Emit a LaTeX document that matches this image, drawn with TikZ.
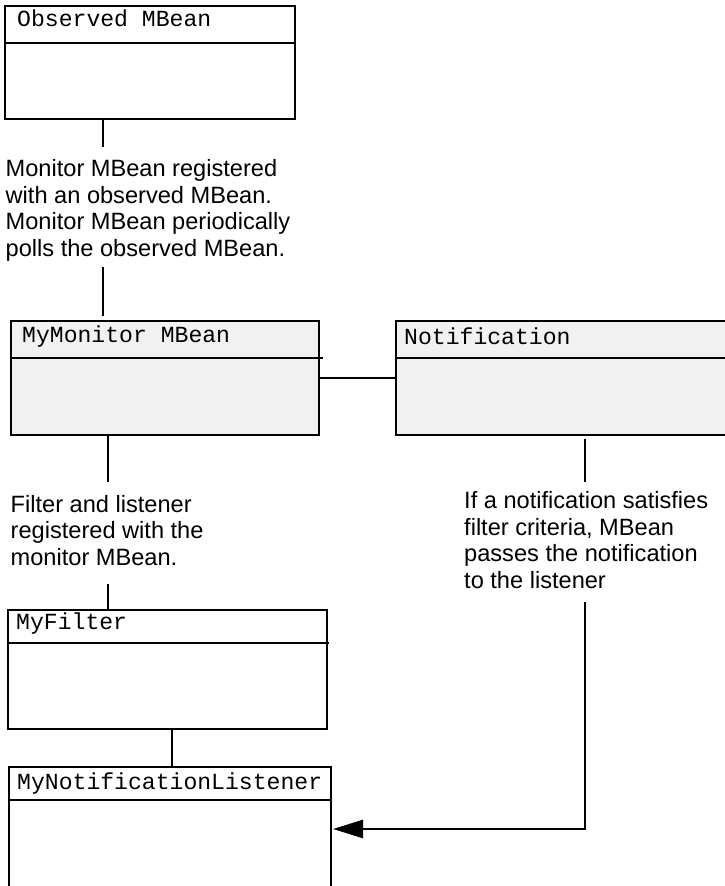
\documentclass[tikz,border=0pt]{standalone}
\usepackage{fontspec}
\setmainfont{Liberation Sans}
\newfontfamily\monofont{Liberation Mono}
\usetikzlibrary{arrows.meta,calc}
\definecolor{boxgray}{HTML}{F1F1F1}
\begin{document}
\begin{tikzpicture}[x=1pt,y=-1pt,
  box/.style={draw,line width=2.5pt,rectangle,inner sep=0pt,outer sep=0pt,anchor=north west},
  title/.style={inner sep=0pt,anchor=base west,font=\monofont\fontsize{23.1}{26}\selectfont},
  note/.style={inner sep=0pt,anchor=base west,align=left,font=\fontsize{23.6}{26.4}\selectfont},
  conn/.style={line width=2.5pt}]
\useasboundingbox (0,0) rectangle (724,886);
% boxes
\node[box,fill=white,minimum width=290pt,minimum height=113pt] (obs) at (5,6) {};
\node[box,fill=boxgray,minimum width=308pt,minimum height=114pt] (mon) at (11,321) {};
\node[box,fill=boxgray,minimum width=332pt,minimum height=114pt] (notif) at (396,321) {};
\node[box,fill=white,minimum width=319pt,minimum height=119pt] (filt) at (8,610) {};
\node[box,fill=white,minimum width=322pt,minimum height=150pt] (lis) at (9,767) {};
% dividers
\draw[conn] ($(obs.north west)+(0,37)$) -- ($(obs.north east)+(0,37)$);
\draw[conn] ($(mon.north west)+(0,37)$) -- ($(mon.north east)+(4,37)$);
\draw[conn] ($(notif.north west)+(0,37)$) -- ($(notif.north east)+(0,37)$);
\draw[conn] ($(filt.north west)+(-1,33)$) -- ($(filt.north east)+(2,33)$);
\draw[conn] ($(lis.north west)+(-1,33)$) -- ($(lis.north east)+(1,33)$);
% titles
\node[title] (obst) at (17,27) {Observed MBean};
\node[title] (mont) at (22,342) {MyMonitor MBean};
\node[title] (notift) at (404,344) {Notification};
\node[title] (filtt) at (16,629) {MyFilter};
\node[title] (list) at (17,789) {MyNotificationListener};
% notes (base anchor = baseline of the last line)
\node[note] (t1) at (5.5,256) {Monitor MBean registered\\with an observed MBean.\\Monitor MBean periodically\\polls the observed MBean.};
\node[note] (t2) at (10.5,565) {Filter and listener\\registered with the\\monitor MBean.};
\node[note] (t3) at (464,588) {If a notification satisfies\\filter criteria, MBean\\passes the notification\\to the listener};
% connector end points
\coordinate (a1) at ($(obs.south west)+(98,0)$);
\coordinate (a2) at (103,147);
\coordinate (b1) at (103,267);
\coordinate (b2) at ($(mon.north west)+(92,-5)$);
\coordinate (c1) at ($(mon.south west)+(97,0)$);
\coordinate (c2) at (108,482);
\coordinate (d1) at (108,584);
\coordinate (d2) at ($(filt.north west)+(100,0)$);
\coordinate (e1) at ($(filt.south west)+(164,0)$);
\coordinate (e2) at ($(lis.north west)+(163,0)$);
\coordinate (f1) at ($(notif.south west)+(189,4)$);
\coordinate (f2) at (585,482);
\coordinate (g1) at (585,602);
\coordinate (g2) at ($(lis.north east)+(2,62)$);
% connectors
\draw[conn] (a1) -- (a2);
\draw[conn] (b1) -- (b2);
\draw[conn] (mon.east |- 0,378) -- (notif.west |- 0,378);
\draw[conn] (c1) -- (c2);
\draw[conn] (d1) -- (d2);
\draw[conn] (e1) -- (e2);
\draw[conn] (f1) -- (f2);
\draw[conn,-{Triangle[length=30pt,width=18pt]}] (g1) |- (g2);
\end{tikzpicture}
\end{document}
